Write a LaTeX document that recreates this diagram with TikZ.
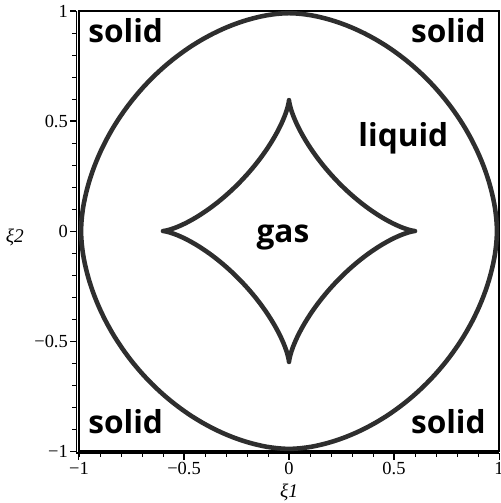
\documentclass[tikz,border=0pt]{standalone}
\usepackage{fontspec}
\newfontfamily\phasefont{Open Sans}
\newfontfamily\tickfont{Liberation Serif}
\usetikzlibrary{positioning}

\begin{document}
\begin{tikzpicture}[
        x=4.2cm, y=4.4cm,
        frame/.style={line width=0.8pt, draw=black},
        curve/.style={line width=2.6pt, draw=black!82, line join=round},
        phase/.style={font=\phasefont\bfseries\fontsize{18}{18}\selectfont, inner sep=0pt},
        ticklbl/.style={font=\tickfont\fontsize{10.5}{11}\selectfont, inner sep=1pt},
        axlbl/.style={font=\tickfont\itshape\fontsize{11}{12}\selectfont},
    ]
    \useasboundingbox (-1.376,-1.236) rectangle (1.005,1.05);

    % ----- Frame and axes -----
    \draw[frame] (-1,-1) rectangle (1,1);
    \coordinate (corner) at (-1.012,-1.009);
    \draw[frame] (-1.012,1) -- (corner) -- (1,-1.009);

    \foreach \i in {-10,...,10}{
        \draw[line width=0.5pt] ({-1.012},{\i/10}) -- ++(-0.019,0);
        \draw[line width=0.5pt] ({\i/10},{-1.009}) -- ++(0,-0.018);
    }
    \foreach \v/\t [count=\k] in {-1/−1,-0.5/−0.5,0/0,0.5/0.5,1/1}{
        \draw[line width=0.6pt] (-1.012,\v) -- ++(-0.033,0);
        \draw[line width=0.6pt] (\v,-1.009) -- ++(0,-0.032);
        \node[ticklbl, anchor=east] (ylab\k) at (-1.043,\v) {\t};
        \node[ticklbl, anchor=north] (xlab\k) at (\v,-1.040) {\t};
    }

    \node[axlbl] (xname) at (0,-1.186) {ξ1};
    \node[axlbl] (yname) at (-1.305,-0.027) {ξ2};

    % ----- Phase boundaries -----
    \draw[curve] plot[domain=0:360, samples=241]
        ({0.99*sign(cos(\x))*(abs(cos(\x))+0.00001)^1.11},
         {0.99*sign(sin(\x))*(abs(sin(\x))+0.00001)^1.11}) -- cycle;
    \draw[curve] plot[domain=0:360, samples=361]
        ({0.6*sign(cos(\x))*(abs(cos(\x))+0.00001)^2.78},
         {0.595*sign(sin(\x))*(abs(sin(\x))+0.00001)^2.78}) -- cycle;

    % ----- Phase labels -----
    \node[phase, anchor=base west] (solidtl) at (-0.957,0.855) {solid};
    \node[phase, anchor=base east] (solidtr) at (0.938,0.855) {solid};
    \node[phase, anchor=base west] (solidbl) at (-0.957,-0.918) {solid};
    \node[phase, anchor=base east] (solidbr) at (0.938,-0.918) {solid};
    \node[phase, anchor=base west] (liquid) at (0.329,0.382) {liquid};
    \node[phase, anchor=base] (gas) at (-0.029,-0.05) {gas};

\end{tikzpicture}
\end{document}
